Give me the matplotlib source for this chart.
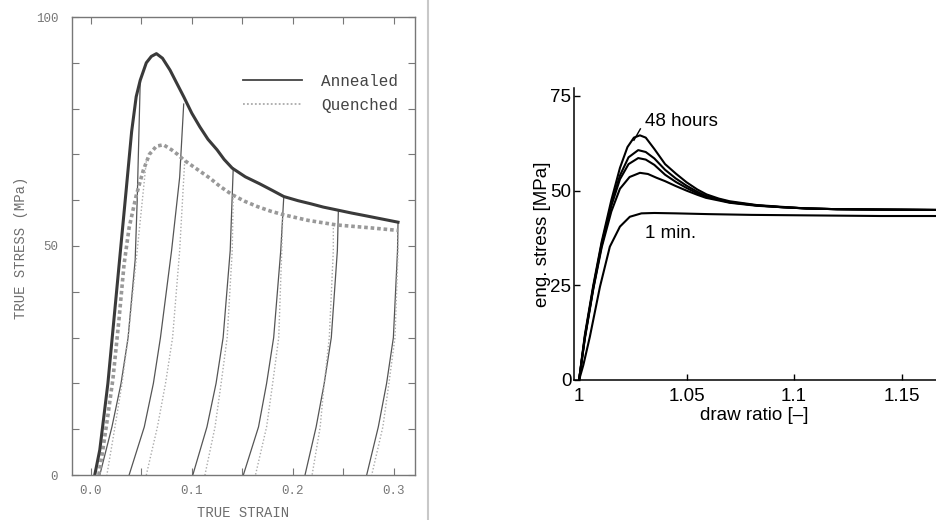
import matplotlib
matplotlib.use('Agg')
import matplotlib.pyplot as plt
from matplotlib.lines import Line2D
from matplotlib.ticker import MultipleLocator, FixedLocator, FixedFormatter

# ---- left panel: true stress / true strain, annealed vs quenched ----
ann_strain = [0.004, 0.009, 0.017, 0.023, 0.029, 0.035, 0.0405, 0.045, 0.049, 0.055, 0.060,
              0.065, 0.071, 0.0785, 0.085, 0.092, 0.100, 0.108, 0.116, 0.125, 0.132, 0.140,
              0.153, 0.167, 0.180, 0.191, 0.205, 0.218, 0.230, 0.243, 0.258, 0.272, 0.288,
              0.304]
ann_stress = [0, 5.5, 20, 34, 48, 62, 75, 82.6, 86.2, 90, 91.4,
              92, 91, 88.4, 85.6, 82.6, 79.0, 76, 73.3, 71, 68.9, 67,
              65.1, 63.6, 62.1, 60.8, 59.9, 59.2, 58.5, 57.9, 57.2, 56.6, 55.9,
              55.2]

que_strain = [0.008, 0.012, 0.017, 0.022, 0.028, 0.033, 0.038, 0.045, 0.052, 0.058, 0.065,
              0.072, 0.080, 0.086, 0.092, 0.105, 0.118, 0.128, 0.140, 0.152, 0.165, 0.178,
              0.191, 0.215, 0.243, 0.275, 0.304]
que_stress = [0, 5.5, 13, 21, 34, 46, 54, 61, 66.5, 70, 71.8,
              72.1, 71, 70.0, 68.8, 66.8, 64.8, 63.0, 61.2, 59.8, 58.6, 57.6,
              56.8, 55.6, 54.6, 54.0, 53.4]

# unloading branches (solid = annealed, dotted = quenched)
ann_unload_strain = [
    [0.049, 0.046, 0.044, 0.037, 0.030, 0.021, 0.009],
    [0.092, 0.088, 0.080, 0.069, 0.062, 0.053, 0.038],
    [0.141, 0.138, 0.131, 0.124, 0.115, 0.101],
    [0.191, 0.188, 0.181, 0.174, 0.166, 0.151],
    [0.245, 0.244, 0.238, 0.231, 0.223, 0.212],
    [0.304, 0.3035, 0.2994, 0.2927, 0.2845, 0.273],
]
ann_unload_stress = [
    [86, 60, 47, 30, 20, 10.5, 0],
    [81, 65, 49, 30, 20, 10.5, 0],
    [67, 49, 30, 20, 10.5, 0],
    [60.8, 49, 30, 20, 10.5, 0],
    [57.8, 49, 30, 20, 10.5, 0],
    [55.2, 49, 30, 20, 10.5, 0],
]
que_unload_strain = [
    [0.055, 0.046, 0.037, 0.031, 0.024, 0.016],
    [0.093, 0.088, 0.081, 0.074, 0.066, 0.055],
    [0.141, 0.140, 0.135, 0.129, 0.123, 0.113],
    [0.190, 0.189, 0.186, 0.180, 0.174, 0.163],
    [0.240, 0.240, 0.236, 0.231, 0.227, 0.219],
    [0.304, 0.304, 0.301, 0.295, 0.289, 0.278],
]
que_unload_stress = [
    [68.5, 49, 30, 20, 10.5, 0],
    [68.6, 49, 30, 20, 10.5, 0],
    [61.2, 49, 30, 20, 10.5, 0],
    [56.8, 49, 30, 20, 10.5, 0],
    [54.7, 49, 30, 20, 10.5, 0],
    [53.4, 49, 30, 20, 10.5, 0],
]

left_xticks = [0.0, 0.1, 0.2, 0.3]
left_xticklabels = ['0.0', '0.1', '0.2', '0.3']
left_yticks = [0, 50, 100]

# ---- right panel: eng. stress vs draw ratio for different ageing times ----
dr_48h = [1.000, 1.001, 1.0027, 1.0066, 1.0105, 1.0150, 1.0190, 1.0225, 1.0255, 1.0283, 1.031,
          1.035, 1.040, 1.045, 1.050, 1.055, 1.0593, 1.065, 1.070, 1.0826, 1.095, 1.1058,
          1.120, 1.140, 1.166]
s_48h = [0, 4.5, 12, 25, 36.5, 47.5, 56, 61.5, 64, 64.6, 64,
         61.0, 57.0, 54.5, 52.2, 50.3, 49.0, 47.9, 47.2, 46.2, 45.7, 45.3,
         45.1, 45.0, 44.9]

dr_mid = [1.000, 1.001, 1.0027, 1.0066, 1.0105, 1.0150, 1.0190, 1.0230, 1.0275, 1.031, 1.035,
          1.040, 1.045, 1.050, 1.055, 1.059, 1.065, 1.070, 1.0826, 1.095, 1.1058, 1.120,
          1.140, 1.166]
s_c2 = [0, 4.3, 11.5, 24.5, 36, 46.5, 54, 58.8, 60.7, 60.2, 58.5,
        55.5, 53.2, 51.3, 49.7, 48.6, 47.7, 47.0, 46.1, 45.6, 45.3, 45.1,
        45.0, 44.9]
s_c3 = [0, 4.2, 11.3, 24.3, 35.5, 46, 53, 57, 58.6, 58.2, 56.8,
        54.2, 52.3, 50.7, 49.3, 48.4, 47.6, 46.9, 46.1, 45.6, 45.3, 45.1,
        45.0, 44.9]

dr_c4 = [1.000, 1.001, 1.0027, 1.0066, 1.0105, 1.0150, 1.0190, 1.0235, 1.0283, 1.032, 1.036,
         1.040, 1.045, 1.050, 1.055, 1.059, 1.065, 1.070, 1.0826, 1.095, 1.1058, 1.120,
         1.140, 1.166]
s_c4 = [0, 4, 11, 24, 35, 44.5, 50.5, 53.6, 54.7, 54.4, 53.4,
        52.5, 51.2, 50.0, 48.9, 48.1, 47.4, 46.8, 46.0, 45.6, 45.3, 45.1,
        45.0, 44.9]

dr_1min = [1.000, 1.002, 1.0050, 1.0097, 1.0143, 1.019, 1.0236, 1.029, 1.035, 1.045, 1.060,
           1.080, 1.100, 1.120, 1.140, 1.166]
s_1min = [0, 4, 11.4, 24.6, 35.2, 40.5, 43.1, 44.0, 44.1, 44.0, 43.8,
          43.6, 43.5, 43.4, 43.3, 43.3]

leader_x = [1.0255, 1.0285]
leader_y = [63.3, 66.3]

right_xticks = [1.0, 1.05, 1.1, 1.15]
right_xticklabels = ['1', '1.05', '1.1', '1.15']
right_yticks = [0, 25, 50, 75]

W, H = 936, 520
fig = plt.figure(figsize=(W / 100, H / 100), dpi=100)

# left (scanned) plot
mono = 'Liberation Mono'
grey = '#777777'
ax1 = fig.add_axes([72 / W, 45 / H, 343 / W, 458 / H])
for i in range(len(ann_unload_strain)):
    ax1.plot(ann_unload_strain[i], ann_unload_stress[i], '-', color='#555555', lw=0.9)
for i in range(len(que_unload_strain)):
    ax1.plot(que_unload_strain[i], que_unload_stress[i], color='#aaaaaa', lw=1.0,
             linestyle=(0, (1, 1.5)))
ax1.plot(que_strain, que_stress, color='#999999', lw=2.6, linestyle=(0, (1, 0.8)),
         label='Quenched')
ax1.plot(ann_strain, ann_stress, '-', color='#3a3a3a', lw=2.2, label='Annealed')

ax1.set_xlim(-0.0185, 0.3208)
ax1.set_ylim(0, 100)
ax1.xaxis.set_major_locator(FixedLocator(left_xticks))
ax1.xaxis.set_major_formatter(FixedFormatter(left_xticklabels))
ax1.xaxis.set_minor_locator(MultipleLocator(0.05))
ax1.yaxis.set_major_locator(FixedLocator(left_yticks))
ax1.yaxis.set_minor_locator(MultipleLocator(10))
ax1.tick_params(which='both', direction='in', top=True, right=True, color=grey,
                width=0.8, length=5)
ax1.tick_params(axis='x', pad=7, labelsize=9, labelcolor=grey)
ax1.tick_params(axis='y', pad=10, labelsize=9, labelcolor=grey)
for lab in ax1.get_xticklabels() + ax1.get_yticklabels():
    lab.set_family(mono)
for sp in ax1.spines.values():
    sp.set_color(grey)
    sp.set_linewidth(1.0)
ax1.set_xlabel('TRUE STRAIN', family=mono, fontsize=10, color='#6e6e6e')
ax1.set_ylabel('TRUE STRESS (MPa)', family=mono, fontsize=10, color='#6e6e6e')
ax1.xaxis.set_label_coords(0.5, -0.068)
ax1.yaxis.set_label_coords(-0.128, 0.495)

hl = [Line2D([], [], color='#444444', lw=1.3),
      Line2D([], [], color='#aaaaaa', lw=1.3, linestyle=(0, (1, 1.2)))]
leg = ax1.legend(hl, ['Annealed', 'Quenched'], loc='upper right',
                 bbox_to_anchor=(0.975, 0.893), frameon=False, borderpad=0,
                 handlelength=3.7, handletextpad=1.2, labelspacing=0.55,
                 prop={'family': mono, 'size': 11.5})
for t in leg.get_texts():
    t.set_color('#444444')

# separator line of the scanned image
fig.add_artist(Line2D([428 / W, 428 / W], [0, 1], transform=fig.transFigure,
                      color='#c8c8c8', lw=1.5))

# right plot
sans = 'Liberation Sans'
fs = 13.5
ax2 = fig.add_axes([573.5 / W, 140 / H, 362.5 / W, 292 / H])
ax2.plot(dr_48h, s_48h, 'k-', lw=1.5)
ax2.plot(dr_mid, s_c2, 'k-', lw=1.5)
ax2.plot(dr_mid, s_c3, 'k-', lw=1.5)
ax2.plot(dr_c4, s_c4, 'k-', lw=1.5)
ax2.plot(dr_1min, s_1min, 'k-', lw=1.5)
ax2.plot(leader_x, leader_y, 'k-', lw=1.0)
ax2.text(1.0305, 68.3, '48 hours', family=sans, fontsize=fs, va='center', ha='left')
ax2.text(1.0305, 38.8, '1 min.', family=sans, fontsize=fs, va='center', ha='left')

ax2.set_xlim(0.9974, 1.166)
ax2.set_ylim(0, 77.1)
ax2.xaxis.set_major_locator(FixedLocator(right_xticks))
ax2.xaxis.set_major_formatter(FixedFormatter(right_xticklabels))
ax2.yaxis.set_major_locator(FixedLocator(right_yticks))
ax2.spines['top'].set_visible(False)
ax2.spines['right'].set_visible(False)
for sp in ('left', 'bottom'):
    ax2.spines[sp].set_linewidth(1.1)
ax2.tick_params(direction='in', length=4, width=1.0, labelsize=fs)
ax2.tick_params(axis='x', pad=6)
ax2.tick_params(axis='y', pad=1.5)
for lab in ax2.get_xticklabels() + ax2.get_yticklabels():
    lab.set_family(sans)
ax2.set_xlabel('draw ratio [\u2013]', family=sans, fontsize=fs)
ax2.set_ylabel('eng. stress [MPa]', family=sans, fontsize=fs)
ax2.xaxis.set_label_coords(0.5, -0.091)
ax2.yaxis.set_label_coords(-0.063, 0.5)

fig.savefig('out.png', dpi=100)
